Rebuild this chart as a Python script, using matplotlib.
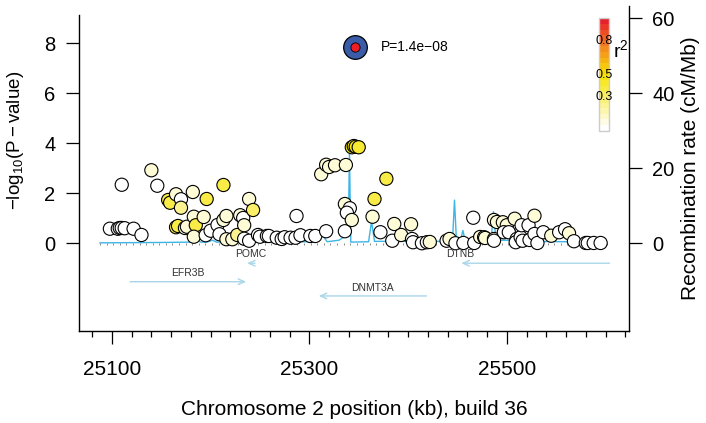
import numpy as np
import matplotlib
matplotlib.use("Agg")
import matplotlib.pyplot as plt
import matplotlib.colorbar as mcolorbar
from matplotlib.colors import LinearSegmentedColormap, Normalize
from matplotlib.ticker import FixedLocator, NullFormatter
import matplotlib.transforms as mtransforms

plt.rcParams['font.family'] = ['Liberation Sans', 'DejaVu Sans']
plt.rcParams['mathtext.fontset'] = 'custom'
plt.rcParams['mathtext.rm'] = 'Liberation Sans'
plt.rcParams['mathtext.it'] = 'Liberation Sans:italic'

# ---- SNPs: position (kb), -log10(P), r2 with the top SNP ----
snp_kb = [25098, 25106, 25108, 25110, 25113, 25122, 25130, 25110, 25140, 25146,
          25157, 25159, 25165, 25170, 25170, 25182, 25196, 25213, 25165, 25167,
          25174, 25176, 25183, 25185, 25183, 25193, 25195, 25200, 25207, 25209,
          25213, 25216, 25216, 25222, 25227, 25230, 25233, 25234, 25234, 25239,
          25243, 25239, 25248, 25250, 25257, 25259, 25267, 25272, 25275, 25281,
          25286, 25291, 25287, 25301, 25306, 25317, 25312, 25317, 25320, 25326,
          25337, 25336, 25336, 25341, 25338, 25343, 25343, 25345, 25347, 25350,
          25364, 25366, 25378, 25372, 25384, 25386, 25393, 25403, 25404, 25405,
          25414, 25419, 25422, 25439, 25442, 25448, 25456, 25466, 25467, 25473,
          25477, 25478, 25487, 25487, 25487, 25490, 25496, 25500, 25497, 25502,
          25508, 25510, 25509, 25514, 25515, 25516, 25522, 25523, 25528, 25528,
          25531, 25537, 25545, 25553, 25559, 25563, 25568, 25580, 25582, 25588,
          25595]
snp_logp = [0.58, 0.58, 0.61, 0.61, 0.60, 0.58, 0.33, 2.34, 2.92, 2.30,
            1.73, 1.62, 1.96, 1.76, 1.42, 2.05, 1.77, 2.33, 0.64, 0.69,
            0.61, 0.66, 1.06, 0.72, 0.26, 1.05, 0.32, 0.50, 0.73, 0.36,
            0.93, 1.09, 0.16, 0.16, 0.33, 1.12, 1.01, 0.72, 0.18, 1.77,
            1.33, 0.10, 0.33, 0.26, 0.29, 0.29, 0.22, 0.17, 0.24, 0.22,
            0.22, 0.32, 1.09, 0.29, 0.29, 0.48, 2.76, 3.14, 3.05, 3.12,
            3.13, 0.48, 1.57, 1.40, 1.22, 0.93, 3.84, 3.89, 3.86, 3.84,
            1.06, 1.77, 2.58, 0.44, 0.10, 0.77, 0.33, 0.76, 0.17, 0.04,
            0.00, 0.04, 0.05, 0.10, 0.17, 0.00, 0.01, 1.02, 0.01, 0.25,
            0.24, 0.21, 0.17, 0.10, 0.93, 0.85, 0.84, 0.72, 0.44, 0.44,
            0.98, 0.17, 0.04, 0.24, 0.72, 0.10, 0.72, 0.13, 1.10, 0.37,
            0.01, 0.44, 0.30, 0.44, 0.56, 0.40, 0.08, 0.01, 0.01, 0.01,
            0.01]
snp_r2 = [0, 0, 0, 0, 0, 0, 0, 0, 0.08, 0,
          0.36, 0.36, 0.08, 0, 0.22, 0.08, 0.36, 0.36, 0.36, 0.36,
          0.08, 0.08, 0.08, 0.36, 0.08, 0.08, 0, 0, 0, 0,
          0.08, 0.08, 0.08, 0.08, 0.22, 0.08, 0, 0.08, 0, 0.08,
          0.30, 0, 0, 0, 0, 0, 0, 0, 0, 0,
          0, 0, 0, 0, 0, 0, 0.08, 0.08, 0.08, 0.08,
          0.08, 0, 0.08, 0, 0, 0.08, 0.46, 0.46, 0.46, 0.40,
          0.08, 0.36, 0.36, 0, 0, 0.08, 0.08, 0.08, 0, 0,
          0, 0, 0.08, 0, 0.08, 0, 0, 0, 0, 0.08,
          0.08, 0.08, 0.08, 0, 0.08, 0.08, 0.08, 0.08, 0, 0,
          0.08, 0, 0, 0, 0, 0, 0, 0, 0.08, 0,
          0, 0, 0.08, 0, 0, 0.08, 0, 0, 0, 0,
          0]

top_kb = 25346
top_logp = 7.854
top_label = 'P=1.4e\u221208'

# ---- recombination rate (cM/Mb) ----
recomb_kb = [25088, 25150, 25182, 25186, 25190, 25196, 25202, 25206, 25212, 25250,
             25300, 25308, 25313, 25318, 25330, 25337, 25339.5, 25340.6, 25342, 25360,
             25363, 25366, 25440, 25445, 25447, 25449, 25453, 25455.5, 25458, 25484,
             25486.5, 25489, 25507, 25510, 25513, 25560, 25580, 25601]
recomb_rate = [0.1, 0.2, 0.3, 0.9, 0.3, 0.3, 0.8, 0.3, 0.3, 0.3,
               0.4, 0.5, 2.3, 0.4, 0.8, 2.0, 2.7, 24.4, 0.3, 0.4,
               5.8, 0.5, 0.5, 0.7, 11.5, 0.6, 0.6, 3.4, 0.5, 0.6,
               8.4, 0.8, 0.8, 6.2, 0.5, 0.4, 0.3, 0.2]

# ---- genes ----
gene_names = ['EFR3B', 'POMC', 'DNMT3A', 'DTNB']
gene_start = [25118.5, 25237, 25309.5, 25454]
gene_end = [25236, 25245, 25418.7, 25604]
gene_strand = [1, -1, -1, -1]
gene_row = [2, 1, 3, 1]
gene_label_kb = [25177, 25241, 25364, 25453]
row_text_y = {1: -0.44, 2: -1.20, 3: -1.80}
row_arrow_y = {1: -0.80, 2: -1.54, 3: -2.11}

r2_ticks = [0.8, 0.5, 0.3]

ld_colors = [(0, '#FFFFFF'), (0.5, '#F6E400'), (0.75, '#F5881F'), (1, '#E8202A')]
cmap = LinearSegmentedColormap.from_list('ld', ld_colors)

fig = plt.figure(figsize=(7.06, 4.23), dpi=100)
ax = fig.add_axes([0.1123, 0.2182, 0.7790, 0.7681])
ax2 = ax.twinx()
ax.set_zorder(ax2.get_zorder() + 1)
ax.patch.set_visible(False)

ax.set_xlim(25067, 25624)
ax.set_ylim(-3.5, 9.5)
ax2.set_ylim(-3.5 / 0.15, 9.5 / 0.15)

ax2.plot(recomb_kb, recomb_rate, color='#3DB5E6', lw=1.0)

ax.scatter(snp_kb, snp_logp, c=snp_r2, cmap=cmap, vmin=0, vmax=1, s=90,
           edgecolors='black', linewidths=0.8, zorder=3)
ax.scatter([top_kb], [top_logp], s=290, color='#3A5BA8', edgecolors='black',
           linewidths=0.9, zorder=4)
ax.scatter([top_kb], [top_logp], s=44, color='#EE1C25', edgecolors='black',
           linewidths=0.6, zorder=5)
ax.annotate(top_label, (top_kb, top_logp), xytext=(18.5, 0), textcoords='offset points',
            fontsize=10, va='center', ha='left')

# genes
for name, s, e, st, r, lx in zip(gene_names, gene_start, gene_end, gene_strand,
                                 gene_row, gene_label_kb):
    a, b = (s, e) if st > 0 else (e, s)
    ax.annotate('', xy=(b, row_arrow_y[r]), xytext=(a, row_arrow_y[r]),
                arrowprops=dict(arrowstyle='->,head_length=0.45,head_width=0.2',
                                color='#A9D6E8', lw=1.0, shrinkA=0, shrinkB=0))
    ax.text(lx, row_text_y[r], name, fontsize=7.5, color='#333333',
            ha='center', va='center')

# small marks along the baseline
rug = ax.secondary_xaxis(3.5 / 13.0)
rug.spines['bottom'].set_visible(False)
rug.xaxis.set_major_locator(FixedLocator(np.arange(25088, 25602, 20 / 3)))
rug.xaxis.set_major_formatter(NullFormatter())
rug.tick_params(axis='x', length=1.5, width=0.6, color='#777777', direction='out')

# spines and ticks
ax.spines['top'].set_visible(False)
ax2.spines['top'].set_visible(False)
ax.spines['left'].set_bounds(-3.5, 9.13)
for sp in ['left', 'bottom']:
    ax.spines[sp].set_linewidth(1.0)
ax2.spines['right'].set_linewidth(1.0)
ax.spines['right'].set_visible(False)
ax2.spines['left'].set_visible(False)
ax2.spines['bottom'].set_visible(False)

ax.set_xticks([25100, 25300, 25500])
ax.xaxis.set_minor_locator(FixedLocator(np.arange(25080, 25621, 20)))
ax.tick_params(axis='x', which='major', length=9.4, width=0.9, pad=12, labelsize=15)
ax.tick_params(axis='x', which='minor', length=4.3, width=0.9)
ax.set_yticks([0, 2, 4, 6, 8])
ax.tick_params(axis='y', length=9.2, width=0.9, pad=8, labelsize=14.5)
ax2.set_yticks([0, 20, 40, 60])
ax2.tick_params(axis='y', length=9.4, width=0.9, pad=7, labelsize=14.5)

ax.set_xlabel('Chromosome 2 position (kb), build 36', fontsize=15, labelpad=15)
ax.set_ylabel(r'$-\mathrm{log}_{10}(\mathrm{P}-\mathrm{value})$', fontsize=13.5)
ax.yaxis.set_label_coords(-0.097, 0.585)
ax2.set_ylabel('Recombination rate (cM/Mb)', fontsize=15, labelpad=5)

# r2 colour key
cax = fig.add_axes([0.8489, 0.6910, 0.01416, 0.2657])
band_cmap = LinearSegmentedColormap.from_list('ldb', ld_colors, N=20)
cb = mcolorbar.ColorbarBase(cax, cmap=band_cmap, norm=Normalize(0, 1), orientation='vertical')
cb.set_ticks([])
cb.outline.set_edgecolor('#CCCCCC')
cb.outline.set_linewidth(1.0)
trans = mtransforms.blended_transform_factory(cax.transAxes, cax.transData)
for v in r2_ticks:
    cax.text(0.5, v, str(v), transform=trans, ha='center', va='center', fontsize=9)
fig.text(0.868, 0.882, r'r$^2$', fontsize=14, ha='left', va='center')

fig.savefig('out.png', dpi=100)
